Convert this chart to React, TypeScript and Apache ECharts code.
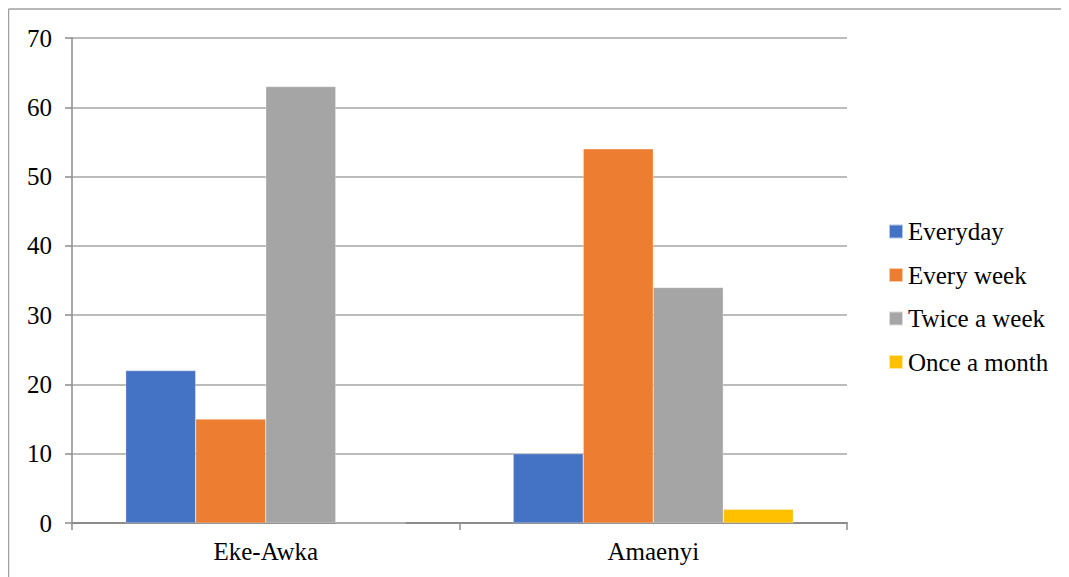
import React, { useEffect, useRef } from "react";
import * as echarts from "echarts";

const categories = ["Eke-Awka", "Amaenyi"];
const seriesNames = ["Everyday", "Every week", "Twice a week", "Once a month"];
const everyday = [22, 10];
const everyWeek = [15, 54];
const twiceAWeek = [63, 34];
const onceAMonth = [0, 2];
const colors = ["#4472C4", "#ED7D31", "#A5A5A5", "#FFC000"];

const FONT = "Times New Roman";

export default function App() {
  const ref = useRef<HTMLDivElement>(null);
  useEffect(() => {
    if (!ref.current) return;
    const chart = echarts.init(ref.current, null, { renderer: "svg" });
    const values = [everyday, everyWeek, twiceAWeek, onceAMonth];
    const rich = { t: { fontFamily: FONT, fontSize: 25, color: "#000" } };
    chart.setOption({
      animation: false,
      backgroundColor: "#fff",
      textStyle: { fontFamily: FONT },
      grid: { left: 64, right: 222, top: 30, bottom: 54, containLabel: false },
      legend: {
        orient: "vertical",
        left: 880,
        top: 211,
        padding: 0,
        itemWidth: 14,
        itemHeight: 14,
        itemGap: 18.5,
        icon: "rect",
        formatter: "{t|{name}}",
        textStyle: { fontFamily: FONT, fontSize: 25, color: "#000", rich },
        data: seriesNames,
      },
      xAxis: {
        type: "category",
        data: categories,
        axisLine: { lineStyle: { color: "#8c8c8c", width: 2 } },
        axisTick: { show: true, length: 7, lineStyle: { color: "#8c8c8c", width: 1.5 } },
        axisLabel: { fontFamily: FONT, fontSize: 25, color: "#000", margin: 16, formatter: "{t|{value}}", rich },
      },
      yAxis: {
        type: "value",
        min: 0,
        max: 70,
        interval: 10,
        axisLine: { show: true, lineStyle: { color: "#8c8c8c", width: 1.5 } },
        axisTick: { show: true, length: 7, lineStyle: { color: "#8c8c8c", width: 1.5 } },
        axisLabel: { fontFamily: FONT, fontSize: 25, color: "#000", margin: 20, formatter: "{t|{value}}", rich },
        splitLine: { lineStyle: { color: "#a6a6a6", width: 1.5 } },
      },
      series: seriesNames.map((name, i) => ({
        name,
        type: "bar",
        data: values[i],
        barGap: "0%",
        barCategoryGap: "27.7%",
        itemStyle: { color: colors[i], borderColor: "rgba(255,255,255,0.6)", borderWidth: 0.5 },
      })),
      graphic: [
        { type: "line", shape: { x1: 0.5, y1: 1, x2: 1061, y2: 1 }, style: { stroke: "#a0a0a0", lineWidth: 1.5 } },
        { type: "line", shape: { x1: 0.5, y1: 1, x2: 0.5, y2: 569 }, style: { stroke: "#a0a0a0", lineWidth: 1.5 } },
      ],
    });
    return () => chart.dispose();
  }, []);
  return <div ref={ref} style={{ width: 1061, height: 569 }} />;
}
